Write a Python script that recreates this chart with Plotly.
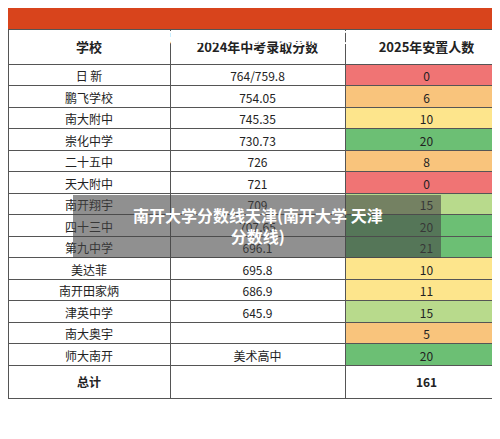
import plotly.graph_objects as go

schools = ['日 新', '鹏飞学校', '南大附中', '崇化中学', '二十五中', '天大附中', '南开翔宇', '四十三中',
           '第九中学', '美达菲', '南开田家炳', '津英中学', '南大奥宇', '师大南开', '总计']
scores = ['764/759.8', '754.05', '745.35', '730.73', '726', '721', '709', '707.65',
          '696.1', '695.8', '686.9', '645.9', '', '美术高中', '']
placed = [0, 6, 10, 20, 8, 0, 15, 20, 21, 10, 11, 15, 5, 20, 161]


def level_color(v):
    if v == 161:
        return 'white'
    if v == 0:
        return '#f07474'
    if v < 10:
        return '#f9c47c'
    if v < 15:
        return '#fde58c'
    if v < 20:
        return '#b8da8c'
    return '#6cbf74'


W, H = 500, 439
title_h = 33

fig = go.Figure(go.Table(
    columnwidth=[162, 175, 163],
    domain=dict(x=[0, 1], y=[0, 1 - (title_h - 12) / H]),
    header=dict(
        values=['<b>学校</b>', '<b>2024年中考录取分数</b>', '<b>2025年安置人数</b>'],
        fill_color='white', line_color='#555', height=27,
        font=dict(family='Noto Sans CJK SC', size=13, color='#222')),
    cells=dict(
        values=[schools[:-1] + ['<b>总计</b>'], scores, [str(v) for v in placed[:-1]] + ['<b>161</b>']],
        fill_color=[['white'] * len(schools), ['white'] * len(schools), [level_color(v) for v in placed]],
        line_color='#555', height=21.5,
        font=dict(family='Noto Sans CJK SC', size=12, color='#222')),
))

fig.update_layout(
    width=W, height=H, margin=dict(l=0, r=0, t=0, b=0),
    paper_bgcolor='white',
    shapes=[
        dict(type='rect', xref='paper', yref='paper', x0=0, x1=1, y0=1 - title_h / H, y1=1,
             fillcolor='#d8441c', line_width=0, layer='below'),
        dict(type='rect', xref='paper', yref='paper', x0=65 / W, x1=433 / W,
             y0=1 - 250 / H, y1=1 - 187 / H, fillcolor='rgba(70,70,70,0.6)', line_width=0),
    ],
    annotations=[
        dict(text='<b>南开区2025年高一安置情况汇总</b>', xref='paper', yref='paper', x=0.5,
             y=1 - 16 / H, showarrow=False, font=dict(family='Noto Sans CJK SC', size=15, color='white')),
        dict(text='<b>南开大学分数线天津(南开大学 天津<br>分数线)</b>', xref='paper', yref='paper', x=0.5,
             y=1 - 218 / H, showarrow=False, align='center',
             font=dict(family='Noto Sans CJK SC', size=16, color='white')),
    ],
)

fig.write_html('out.html')
